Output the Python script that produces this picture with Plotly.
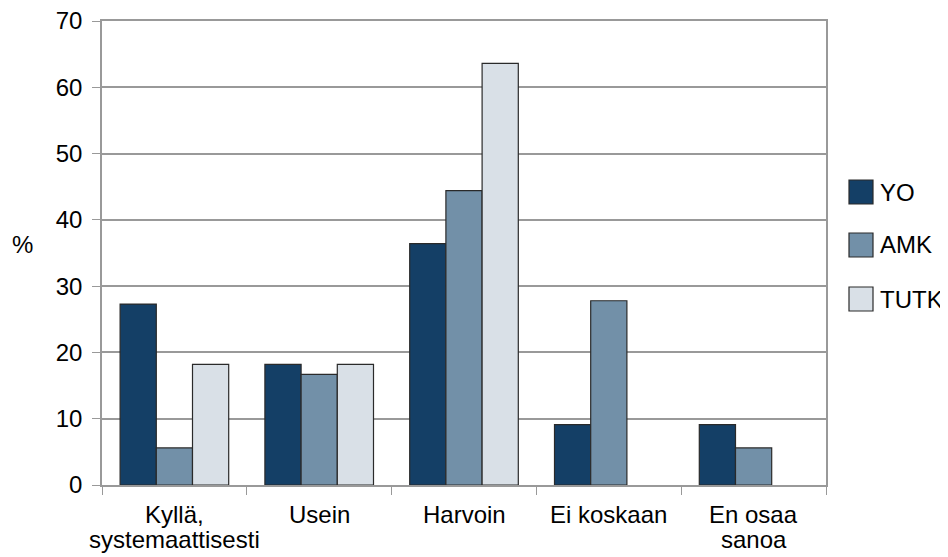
import plotly.graph_objects as go

categories = ["Kyllä,<br>systemaattisesti", "Usein", "Harvoin", "Ei koskaan", "En osaa<br>sanoa"]
yo = [27.3, 18.2, 36.4, 9.1, 9.1]
amk = [5.6, 16.7, 44.4, 27.8, 5.6]
tutk = [18.2, 18.2, 63.6, 0, 0]
y_ticks = [0, 10, 20, 30, 40, 50, 60, 70]

series = [("YO", yo, "#143F66"), ("AMK", amk, "#7290A8"), ("TUTK", tutk, "#D9E0E7")]

FS = 24
FIG_W, FIG_H = 936, 546
# figure pixel geometry (plot area)
L, T, W, H = 94, 13, 724, 464
fig = go.Figure()
for name, vals, col in series:
    fig.add_trace(go.Bar(
        x=categories, y=vals, name=name, showlegend=False,
        marker=dict(color=col, line=dict(color="#2a2a2a",
                                         width=[0 if v == 0 else 1.2 for v in vals])),
    ))

def px_x(p):
    return (p - L) / W

def px_y(p):
    return (T + H - p) / H

shapes = []
annotations = [dict(text="%", xref="paper", yref="paper", x=px_x(14), y=px_y(236),
                    showarrow=False, font=dict(size=FS), xanchor="center", yanchor="middle")]

# category labels, drawn line by line for tight line spacing
line_centers = [506, 531]
for i, cat in enumerate(categories):
    for j, line in enumerate(cat.split("<br>")):
        annotations.append(dict(text=line, xref="x", yref="paper", x=i, y=px_y(line_centers[j]),
                                showarrow=False, xanchor="center", yanchor="middle",
                                font=dict(size=FS)))

legend_centers = [184, 237, 291]
for i, (name, vals, col) in enumerate(series):
    cy = legend_centers[i]
    shapes.append(dict(type="rect", xref="paper", yref="paper",
                       x0=px_x(841), x1=px_x(865), y0=px_y(cy - 12), y1=px_y(cy + 12),
                       fillcolor=col, line=dict(color="#2a2a2a", width=1.2)))
    annotations.append(dict(text=name, xref="paper", yref="paper", x=px_x(870), y=px_y(cy),
                            showarrow=False, xanchor="left", yanchor="middle",
                            font=dict(size=FS)))

font = "Liberation Sans, Arial, sans-serif"
fig.update_layout(
    width=FIG_W, height=FIG_H,
    margin=dict(l=L, r=FIG_W - L - W, t=T, b=FIG_H - T - H, autoexpand=False),
    paper_bgcolor="white", plot_bgcolor="white",
    barmode="group", bargap=0.25, bargroupgap=0,
    font=dict(family=font, size=FS, color="black"),
    showlegend=False,
    xaxis=dict(
        range=[-0.5, len(categories) - 0.5],
        showline=True, linecolor="#999999", linewidth=1.5, mirror=True,
        ticks="outside", tickson="boundaries", ticklen=8, tickcolor="#999999",
        showticklabels=False, showgrid=False, automargin=False,
    ),
    yaxis=dict(
        range=[0, 70], tickvals=y_ticks, showgrid=True, gridcolor="#999999", gridwidth=1.5,
        showline=True, linecolor="#999999", linewidth=1.5, mirror=True,
        ticks="outside", ticklen=8, tickcolor="#999999", zeroline=False,
        tickfont=dict(size=FS), ticklabelstandoff=5, automargin=False,
        ticklabeloverflow="allow",
    ),
    shapes=shapes,
    annotations=annotations,
)

fig.write_html("out.html")
